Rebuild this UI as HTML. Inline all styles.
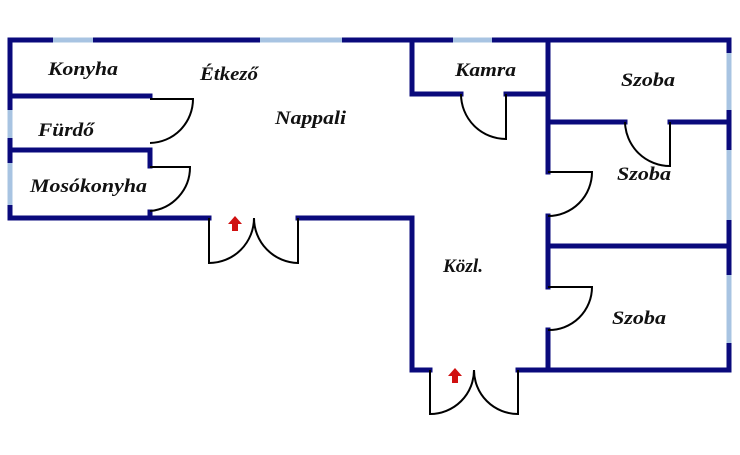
<!DOCTYPE html>
<html><head><style>
html,body{margin:0;padding:0;background:#fff;}
svg{display:block}
text{font-family:"Liberation Serif",serif;font-style:italic;font-weight:bold;font-size:19px;fill:#111;}
</style></head><body>
<svg width="740" height="455" viewBox="0 0 740 455" xmlns="http://www.w3.org/2000/svg">
<rect x="0" y="0" width="740" height="455" fill="#fff"/>
<g stroke="#0a0a7c" stroke-width="5" fill="none" stroke-linecap="square">
<path d="M10 40 H729 V370 H518 M430 370 H412 V218 H298 M209 218 H10 V40"/>
<path d="M10 96 H150 M10 150 H150 V166 M150 212 V218"/>
<path d="M412 40 V94 H461 M506 94 H548"/>
<path d="M548 40 V172 M548 216 V287 M548 330 V370"/>
<path d="M548 122 H625 M670 122 H729 M548 246 H729"/>
</g>
<g stroke="#a8c4e2" stroke-width="5" fill="none">
<path d="M53 40 H93 M260 40 H342 M453 40 H492"/>
<path d="M10 110 V138 M10 163 V205"/>
<path d="M729 53 V110 M729 150 V220 M729 275 V343"/>
</g>
<g stroke="#000" stroke-width="2" fill="none">
<path d="M150 99 H193 A44 44 0 0 1 150 143"/>
<path d="M150 167 H190 A44 44 0 0 1 150 211"/>
<path d="M209 218 V263 A45 45 0 0 0 254 218 A45 45 0 0 0 298 263 V218"/>
<path d="M430 370 V414 A44 44 0 0 0 474 370 A44 44 0 0 0 518 414 V370"/>
<path d="M461 94 A45 45 0 0 0 506 139 V94"/>
<path d="M625 122 A45 45 0 0 0 670 166 V122"/>
<path d="M548 172 H592 A44 44 0 0 1 548 216"/>
<path d="M548 287 H592 A43 43 0 0 1 548 330"/>
</g>
<g fill="#d01010">
<path d="M235 216 L242 224 H238 V231 H232 V224 H228 Z"/>
<path d="M455 368 L462 376 H458 V383 H452 V376 H448 Z"/>
</g>
<text x="48" y="75" textLength="70" lengthAdjust="spacingAndGlyphs">Konyha</text>
<text x="200" y="80" textLength="58" lengthAdjust="spacingAndGlyphs">Étkező</text>
<text x="275" y="124" textLength="71" lengthAdjust="spacingAndGlyphs">Nappali</text>
<text x="38" y="136" textLength="56" lengthAdjust="spacingAndGlyphs">Fürdő</text>
<text x="30" y="192" textLength="117" lengthAdjust="spacingAndGlyphs">Mosókonyha</text>
<text x="455" y="76" textLength="61" lengthAdjust="spacingAndGlyphs">Kamra</text>
<text x="621" y="86" textLength="54" lengthAdjust="spacingAndGlyphs">Szoba</text>
<text x="617" y="180" textLength="54" lengthAdjust="spacingAndGlyphs">Szoba</text>
<text x="443" y="272" textLength="40" lengthAdjust="spacingAndGlyphs">Közl.</text>
<text x="612" y="324" textLength="54" lengthAdjust="spacingAndGlyphs">Szoba</text>
</svg>
</body></html>
